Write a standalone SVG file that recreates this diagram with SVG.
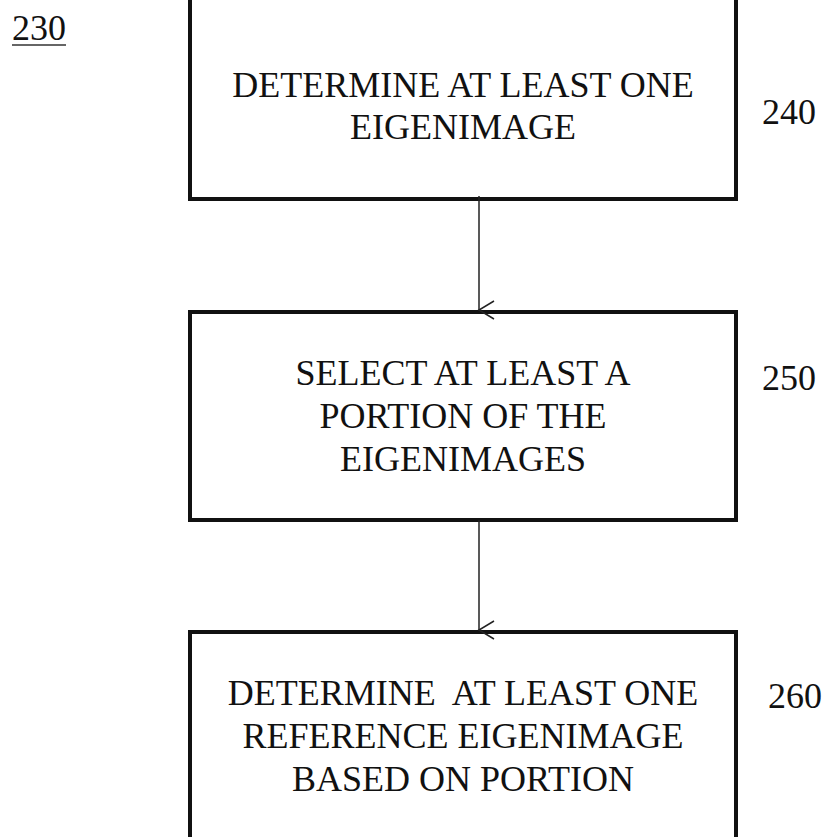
<svg xmlns="http://www.w3.org/2000/svg" width="830" height="837" viewBox="0 0 830 837">
<defs>
<style>
.box{fill:#fff;stroke:#111;stroke-width:4}
.t{font-family:"Liberation Serif","Times New Roman",serif;font-size:36px;fill:#111;text-anchor:middle}
.lbl{font-family:"Liberation Serif","Times New Roman",serif;font-size:36px;fill:#111}
.conn{stroke:#222;stroke-width:1.5;fill:none}
</style>
<marker id="arr" viewBox="0 0 20 20" refX="10" refY="18" markerWidth="20" markerHeight="20" markerUnits="userSpaceOnUse" orient="auto-start-reverse">
<path d="M1,3 L10,18 L19,3" fill="none" stroke="#222" stroke-width="1.5"/>
</marker>
</defs>
<rect width="830" height="837" fill="#fff"/>
<g id="label-230">
<text class="lbl" x="12" y="40">230</text>
<line x1="12" y1="45" x2="66" y2="45" stroke="#333" stroke-width="1.5"/>
</g>
<g id="node-240">
<rect class="box" x="190" y="-10" width="546" height="209"/>
<text class="t" x="463" y="97">DETERMINE AT LEAST ONE</text>
<text class="t" x="463" y="139">EIGENIMAGE</text>
<text class="lbl" x="762" y="124">240</text>
</g>
<g id="node-250">
<rect class="box" x="190" y="312" width="546" height="208"/>
<text class="t" x="463" y="385">SELECT AT LEAST A</text>
<text class="t" x="463" y="428">PORTION OF THE</text>
<text class="t" x="463" y="471">EIGENIMAGES</text>
<text class="lbl" x="762" y="390">250</text>
</g>
<g id="node-260">
<rect class="box" x="190" y="632" width="546" height="230"/>
<text class="t" x="463" y="705" xml:space="preserve">DETERMINE  AT LEAST ONE</text>
<text class="t" x="463" y="748">REFERENCE EIGENIMAGE</text>
<text class="t" x="463" y="791">BASED ON PORTION</text>
<text class="lbl" x="768" y="708">260</text>
</g>
<g id="connectors">
<line class="conn" x1="479" y1="196" x2="479" y2="310" marker-end="url(#arr)"/>
<line class="conn" x1="479" y1="520" x2="479" y2="630" marker-end="url(#arr)"/>
</g>
</svg>
